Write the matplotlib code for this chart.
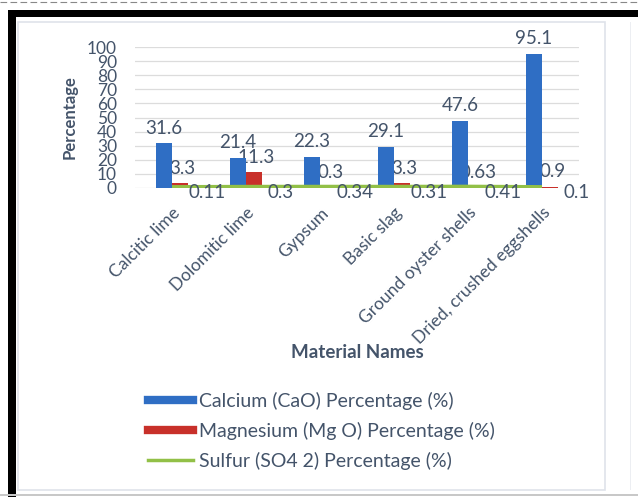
import matplotlib
matplotlib.use("Agg")
import matplotlib.pyplot as plt
from matplotlib.patches import Rectangle
from matplotlib.lines import Line2D
import numpy as np

# chart values
materials = ["Calcitic lime", "Dolomitic lime", "Gypsum", "Basic slag",
             "Ground oyster shells", "Dried, crushed eggshells"]
calcium = [31.6, 21.4, 22.3, 29.1, 47.6, 95.1]
magnesium = [3.3, 11.3, 0.3, 3.3, 0.63, 0.9]
sulfur = [0.11, 0.3, 0.34, 0.31, 0.41, 0.1]
series_names = ["Calcium (CaO) Percentage (%)",
                "Magnesium (Mg O) Percentage (%)",
                "Sulfur (SO4 2) Percentage (%)"]

W, H = 638, 497
TEXT = "#44546a"
BLUE = "#2f6ec4"
RED = "#c8302a"
GREEN = "#92c047"

plt.rcParams["font.family"] = ["Lato", "DejaVu Sans"]

fig = plt.figure(figsize=(W / 100, H / 100), dpi=100)


def px_rect(x0, y0, x1, y1, **kw):
    """Rectangle in pixel coords (origin top-left)."""
    r = Rectangle((x0 / W, 1 - y1 / H), (x1 - x0) / W, (y1 - y0) / H,
                  transform=fig.transFigure, **kw)
    fig.add_artist(r)


# frame around the picture
px_rect(18, 22, 605, 490, facecolor="none", edgecolor="#dfe3ea", lw=1.2)
px_rect(630, 22, 631, 490, facecolor="#eceef2", edgecolor="none")
px_rect(8, 10, 638, 17, facecolor="black", edgecolor="none")
px_rect(8, 10, 16, 497, facecolor="black", edgecolor="none")
px_rect(0, 494, 638, 496, facecolor="#c8c8c8", edgecolor="none")
fig.add_artist(Line2D([0, 1], [1 - 2 / H, 1 - 2 / H], transform=fig.transFigure,
                      color="#888888", lw=0.8, ls=(0, (6, 3))))

# plot area
left, right, top, bottom = 135, 579, 47, 188
ax = fig.add_axes([left / W, 1 - bottom / H, (right - left) / W, (bottom - top) / H])

x = np.arange(len(materials))
bw = 0.22
ax.bar(x - bw / 2, calcium, bw, color=BLUE, zorder=3, label=series_names[0])
ax.bar(x + bw / 2, magnesium, bw, color=RED, zorder=2, label=series_names[1])
ax.plot(x, sulfur, color=GREEN, lw=4, zorder=4, label=series_names[2],
        solid_capstyle="butt")

LBL = 13.5
for xi, v in zip(x, calcium):
    ax.annotate(f"{v:g}", (xi - bw / 2, v), xytext=(0, 15), textcoords="offset pixels",
                ha="center", va="center", fontsize=LBL, color=TEXT, zorder=5)
for xi, v in zip(x, magnesium):
    ax.annotate(f"{v:g}", (xi + bw / 2, v), xytext=(2, 15), textcoords="offset pixels",
                ha="center", va="center", fontsize=LBL, color=TEXT, zorder=1)
for xi, v in zip(x, sulfur):
    ax.annotate(f"{v:g}", (xi, v), xytext=(35, -5), textcoords="offset pixels",
                ha="center", va="center", fontsize=LBL, color=TEXT, zorder=5)

ax.set_xlim(-0.5, len(materials) - 0.5)
ax.set_ylim(0, 100)
ax.set_yticks(np.arange(0, 101, 10))
ax.yaxis.grid(True, color="#dcdcdc", lw=0.9, zorder=0)
ax.set_axisbelow(True)
for s in ax.spines.values():
    s.set_visible(False)
ax.tick_params(axis="both", length=0, colors=TEXT, labelsize=12.5)
ax.tick_params(axis="y", pad=13)
ax.set_xticks(x)
ax.set_xticklabels(materials, rotation=45, ha="right", rotation_mode="anchor")
ax.tick_params(axis="x", pad=12)

ax.set_ylabel("Percentage", fontsize=12, fontweight="bold", color=TEXT, labelpad=7)
fig.text(357 / W, 1 - 352 / H, "Material Names", fontsize=13.5, fontweight="bold",
         color=TEXT, ha="center", va="center")

handles = [Line2D([], [], color=BLUE, lw=6),
           Line2D([], [], color=RED, lw=6),
           Line2D([], [], color=GREEN, lw=2.5)]
fig.legend(handles, series_names, loc="upper left",
           bbox_to_anchor=(148 / W, 1 - 392 / H), frameon=False, fontsize=14,
           labelcolor=TEXT, handlelength=2.3, handletextpad=0.3, labelspacing=0.6,
           borderpad=0, borderaxespad=0)

fig.savefig("out.png", dpi=100)
